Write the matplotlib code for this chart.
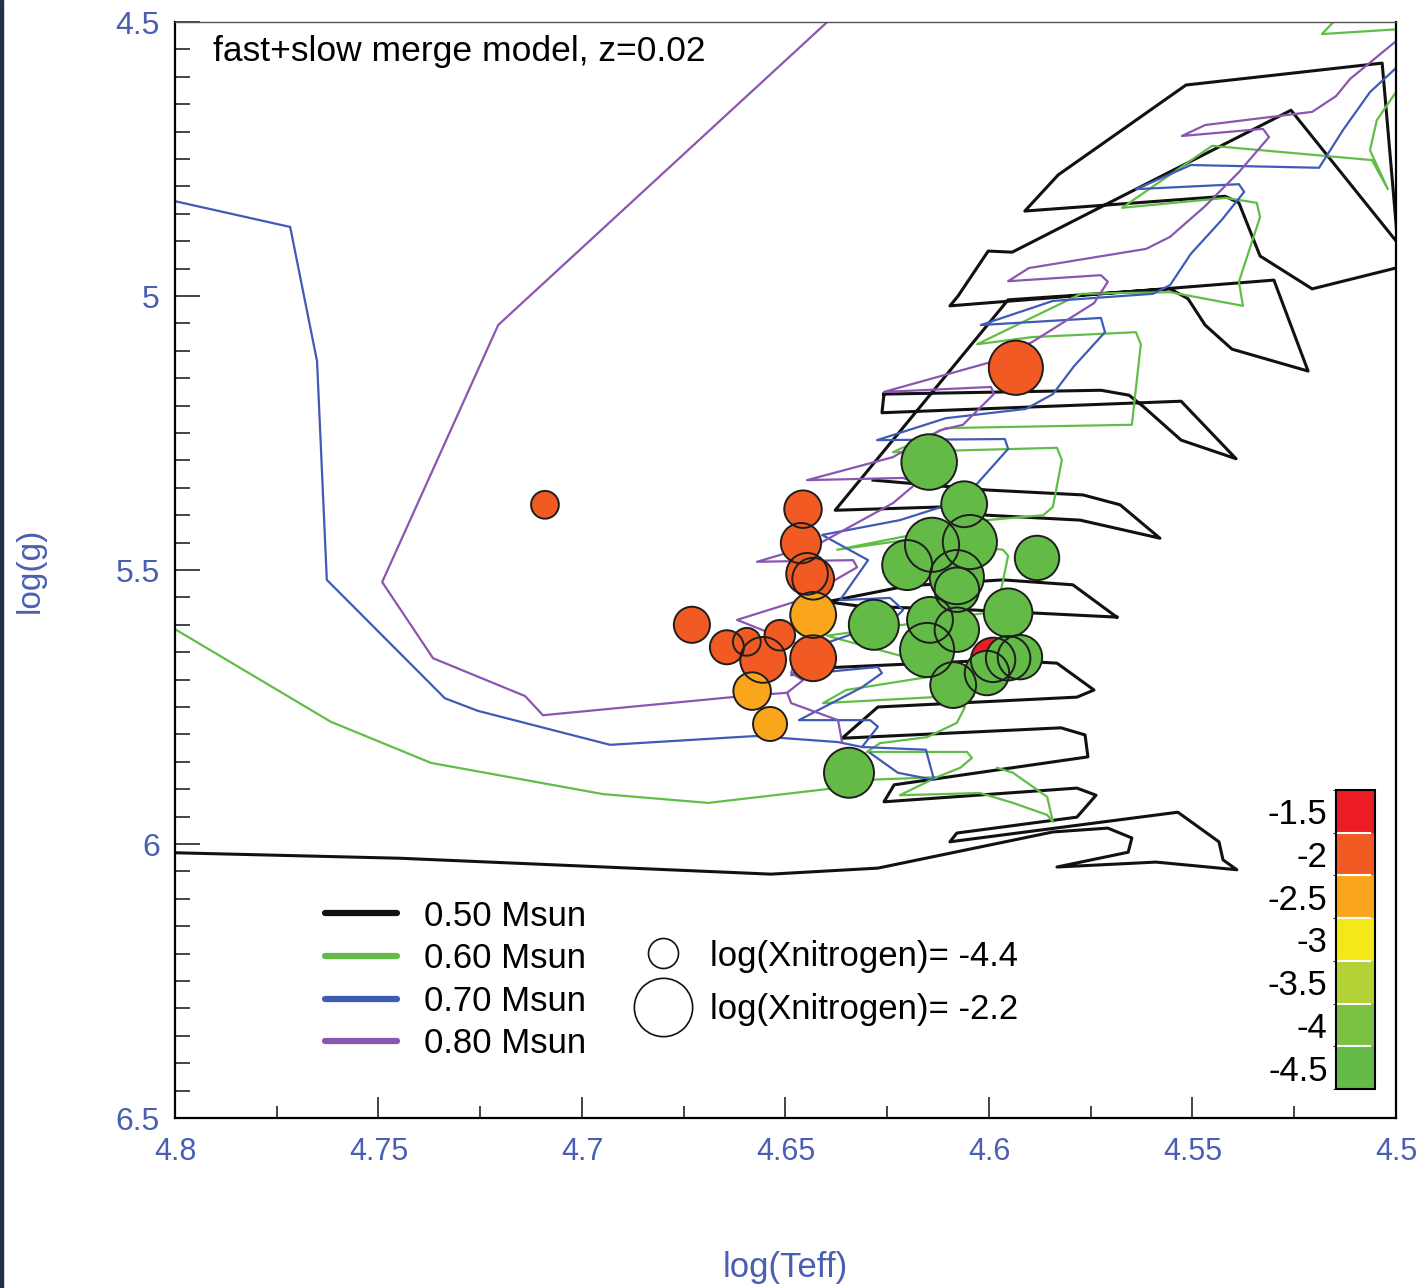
import numpy as np
import matplotlib
matplotlib.use('Agg')
import matplotlib.pyplot as plt
from matplotlib.colors import ListedColormap, BoundaryNorm
from matplotlib.cm import ScalarMappable
from matplotlib.lines import Line2D
from matplotlib.patches import Rectangle

nan = np.nan

# --- evolutionary tracks (log Teff, log g), nan = gap between pieces ---
teff_050 = [4.4941, 4.5206, 4.5334, 4.5386, 4.5420, 4.5912, 4.5830, 4.5516, 4.5034, 4.4990, nan,
            4.4941, 4.5258, 4.5943, 4.6002, 4.6076, 4.6096, 4.5300, 4.5216, 4.5403, 4.5469, 4.5511,
            4.5555, 4.5953, 4.6378, 4.6120, 4.6005, 4.5776, 4.5580, 4.5678, 4.5769, 4.6005, 4.6285, nan,
            4.6258, 4.5725, 4.5656, 4.5622, 4.5528, 4.5393, 4.5528, 4.6263, 4.6258, nan,
            4.5686, 4.5794, 4.5966, 4.6201, 4.6398, 4.6317, 4.6039, 4.5686, nan,
            4.6415, 4.5973, 4.5833, 4.5742, 4.5784, 4.6273, 4.6361, 4.5823, 4.5764, 4.5757, 4.6233,
            4.6258, 4.5784, 4.5737, 4.5784, 4.6079, 4.6096, 4.5536, 4.5435, 4.5425, 4.5391, 4.5590,
            4.5833, 4.5658, 4.5649, 4.5708, 4.5843, 4.6273, 4.6536, 4.7447, 4.8000]
logg_050 = [4.938, 4.987, 4.927, 4.830, 4.818, 4.845, 4.779, 4.615, 4.575, 4.953, nan,
            4.954, 4.661, 4.920, 4.918, 5.000, 5.018, 4.971, 5.137, 5.097, 5.053, 5.005,
            4.987, 5.007, 5.391, 5.385, 5.400, 5.409, 5.442, 5.381, 5.363, 5.354, 5.336, nan,
            5.179, 5.172, 5.181, 5.201, 5.263, 5.297, 5.192, 5.213, 5.179, nan,
            5.586, 5.527, 5.518, 5.529, 5.558, 5.566, 5.573, 5.586, nan,
            5.679, 5.664, 5.670, 5.719, 5.732, 5.750, 5.807, 5.788, 5.801, 5.841, 5.892,
            5.923, 5.898, 5.911, 5.951, 5.980, 5.996, 5.942, 5.996, 6.029, 6.047, 6.033,
            6.042, 6.015, 5.989, 5.971, 5.978, 6.044, 6.055, 6.026, 6.016]

teff_060 = [4.5125, 4.5182, 4.4990, nan,
            4.4990, 4.5047, 4.5064, 4.5020, 4.5059, 4.5452, 4.5673, 4.5418, 4.5342, 4.5334, 4.5386,
            4.5376, 4.5555, 4.5774, 4.6029, 4.5894, 4.5639, 4.5627, 4.5649, 4.6106, 4.6236, 4.5833,
            4.5821, 4.5843, 4.5867, 4.6005, 4.6373, 4.6201, 4.5966, 4.5953, 4.5973, 4.6005, 4.6398,
            4.6071, 4.6351, 4.6408, 4.6135, 4.6059, 4.6079, 4.6152, 4.6268, 4.6300, 4.6054, 4.6042,
            4.6071, 4.6128, 4.6219, 4.6022, 4.5941, 4.5857, 4.5843, 4.5857, 4.5941, 4.5980, nan,
            4.8000, 4.7617, 4.7371, 4.6948, 4.6690, 4.6400, 4.6300, 4.6128]
logg_060 = [4.478, 4.522, 4.513, nan,
            4.617, 4.679, 4.734, 4.805, 4.752, 4.726, 4.839, 4.821, 4.830, 4.856, 4.974,
            5.018, 4.993, 4.996, 5.088, 5.075, 5.066, 5.088, 5.235, 5.241, 5.285, 5.277,
            5.299, 5.385, 5.400, 5.409, 5.463, 5.445, 5.463, 5.474, 5.546, 5.578, 5.620,
            5.686, 5.719, 5.743, 5.732, 5.750, 5.779, 5.805, 5.816, 5.832, 5.832, 5.843,
            5.861, 5.878, 5.911, 5.907, 5.925, 5.947, 5.960, 5.914, 5.870, 5.861, nan,
            5.608, 5.777, 5.852, 5.909, 5.925, 5.900, 5.883, 5.878]

teff_070 = [4.4941, 4.5000, 4.5064, 4.5130, 4.5189, 4.5504, 4.5639, 4.5386, 4.5373, 4.5428, 4.5504,
            4.5555, 4.5597, 4.5843, 4.6020, 4.5725, 4.5715, 4.5791, 4.5843, 4.5909, 4.6106, 4.6275,
            4.5961, 4.5953, 4.6037, 4.6096, 4.6219, 4.6410, 4.6297, 4.6366, 4.6243, 4.6211, 4.6236,
            4.6391, 4.6486, 4.6273, 4.6263, 4.6312, 4.6467, 4.6292, 4.6273, 4.6312, 4.6155, 4.6135,
            4.6224, 4.6292, nan,
            4.8000, 4.7717, 4.7651, 4.7627, 4.7337, 4.7256, 4.6931, 4.6575, 4.6371, 4.6312]
logg_070 = [4.542, 4.584, 4.628, 4.697, 4.766, 4.761, 4.805, 4.796, 4.810, 4.861, 4.923,
            4.980, 4.996, 5.009, 5.053, 5.040, 5.066, 5.128, 5.179, 5.206, 5.223, 5.263,
            5.261, 5.279, 5.349, 5.380, 5.409, 5.436, 5.482, 5.555, 5.551, 5.573, 5.591,
            5.631, 5.692, 5.677, 5.688, 5.714, 5.774, 5.774, 5.786, 5.823, 5.828, 5.883,
            5.870, 5.834, nan,
            4.827, 4.874, 5.119, 5.518, 5.734, 5.757, 5.819, 5.803, 5.814, 5.823]

teff_080 = [4.4941, 4.5000, 4.5113, 4.5147, 4.5206, 4.5469, 4.5526, 4.5327, 4.5312, 4.5386, 4.5469,
            4.5555, 4.5614, 4.5902, 4.5953, 4.5725, 4.5708, 4.5742, 4.5894, 4.6002, 4.6258, 4.5995,
            4.5988, 4.6064, 4.6120, 4.6236, 4.6447, 4.6211, 4.6177, 4.6236, 4.6415, 4.6570, 4.6334,
            4.6324, 4.6464, 4.6619, 4.6464, 4.6486, 4.6457, 4.6496, 4.6486, 4.6371, 4.6361, nan,
            4.6339, 4.7206, 4.7491, 4.7366, 4.7140, 4.7096, 4.6631, 4.6496]
logg_080 = [4.496, 4.535, 4.604, 4.635, 4.664, 4.688, 4.708, 4.695, 4.710, 4.774, 4.836,
            4.892, 4.914, 4.949, 4.973, 4.962, 4.974, 5.013, 5.084, 5.122, 5.175, 5.166,
            5.179, 5.235, 5.245, 5.294, 5.336, 5.332, 5.341, 5.378, 5.451, 5.485, 5.482,
            5.495, 5.555, 5.591, 5.637, 5.688, 5.701, 5.724, 5.743, 5.774, 5.814, nan,
            4.460, 5.053, 5.522, 5.661, 5.730, 5.765, 5.732, 5.724]

track_labels = ['0.50 Msun', '0.60 Msun', '0.70 Msun', '0.80 Msun']

# --- observed stars ---
star_teff = [4.7091, 4.6730, 4.6644, 4.6595, 4.6514, 4.6555, 4.6432, 4.6457, 4.6462, 4.6447, 4.6432,
             4.5934, 4.6432, 4.6582, 4.6538, 4.5990,
             4.6147, 4.6061, 4.6201, 4.6140, 4.6047, 4.6079, 4.6079, 4.5882, 4.6283, 4.5953,
             4.6145, 4.6079, 4.6152, 4.6088, 4.6005, 4.5953, 4.5924, 4.6344]
star_logg = [5.381, 5.600, 5.641, 5.631, 5.619, 5.664, 5.661, 5.389, 5.451, 5.507, 5.516,
             5.131, 5.582, 5.721, 5.781, 5.664,
             5.303, 5.380, 5.491, 5.454, 5.449, 5.513, 5.536, 5.478, 5.600, 5.578,
             5.591, 5.609, 5.646, 5.710, 5.688, 5.661, 5.659, 5.870]
star_logn = [-2.0, -2.0, -2.1, -2.0, -2.0, -2.1, -2.0, -2.0, -2.1, -2.0, -2.0,
             -2.1, -2.4, -2.4, -2.5, -1.6,
             -4.5, -4.5, -4.5, -4.5, -4.5, -4.5, -4.5, -4.5, -4.5, -4.5,
             -4.5, -4.5, -4.5, -4.5, -4.5, -4.5, -4.5, -4.5]

cbar_ticks = [-4.5, -4, -3.5, -3, -2.5, -2, -1.5]
cbar_colors = ['#63ba46', '#7bc143', '#b2d235', '#f2e81a', '#f9a61c', '#f15a22', '#ec1c24']

xtick_vals = [4.8, 4.75, 4.7, 4.65, 4.6, 4.55, 4.5]

# marker diameters (pt)
msize = np.array([20, 26, 24.5, 20, 22, 33, 33, 27, 29, 30, 30,
                  39, 33, 27, 24.5, 32,
                  40, 33, 36, 39, 39, 39, 32, 32, 36, 35,
                  33, 32, 39, 33, 32, 32, 32, 36])

plt.rcParams['font.family'] = ['Liberation Sans', 'DejaVu Sans']
blue_txt = '#4a5fb3'

fig = plt.figure(figsize=(14.26, 12.88), dpi=100)
fig.patches.append(Rectangle((0, 0), 3 / 1426, 1, transform=fig.transFigure,
                             color='#22304c', zorder=0))
ax = fig.add_axes([175 / 1426, 170 / 1288, 1221 / 1426, 1096 / 1288])

track_colors = ['#111111', '#62bd48', '#3f5bb5', '#8b55b2']
tracks = [(teff_050, logg_050), (teff_060, logg_060), (teff_070, logg_070), (teff_080, logg_080)]
for (tx, ty), col in zip(tracks, track_colors):
    ax.plot(tx, ty, color=col, lw=2.2 if col == '#111111' else 1.6, zorder=2)

cmap = ListedColormap(cbar_colors)
bounds = np.arange(-4.75, -1.24, 0.5)
norm = BoundaryNorm(bounds, cmap.N)

# fills first, then all outlines on top
ax.scatter(star_teff, star_logg, s=msize ** 2, c=star_logn, cmap=cmap, norm=norm,
           edgecolors='none', zorder=3)
ax.scatter(star_teff, star_logg, s=msize ** 2, facecolors='none', edgecolors='#1e1e1e',
           linewidths=1.4, zorder=4)

ax.set_xlim(4.8, 4.5)
ax.set_ylim(6.5, 4.5)
ax.set_xticks(xtick_vals)
ax.set_xticklabels(['%g' % v for v in xtick_vals])
ax.xaxis.set_minor_locator(plt.MultipleLocator(0.025))
ax.yaxis.set_major_locator(plt.MultipleLocator(0.5))
ax.yaxis.set_minor_locator(plt.MultipleLocator(0.05))
ax.yaxis.set_major_formatter(plt.FormatStrFormatter('%g'))
ax.tick_params(which='both', direction='in', top=False, right=False, width=1.1, color='#111111')
ax.tick_params(axis='x', which='major', length=15, pad=14, labelsize=22, labelcolor=blue_txt)
ax.tick_params(axis='x', which='minor', length=9)
ax.tick_params(axis='y', which='major', length=18, pad=11, labelsize=23, labelcolor=blue_txt)
ax.tick_params(axis='y', which='minor', length=11)
for s in ['left', 'bottom', 'right']:
    ax.spines[s].set_linewidth(1.6)
ax.spines['top'].set_linewidth(1.0)
ax.spines['top'].set_color('#555555')

ax.text(0.031, 0.9644, 'fast+slow merge model, z=0.02', transform=ax.transAxes,
        fontsize=25.5, va='baseline', ha='left')

fig.text(785 / 1426, 1 - 1268 / 1288, 'log(Teff)', ha='center', va='center',
         fontsize=25, color=blue_txt)
fig.text(30 / 1426, 1 - 570 / 1288, 'log(g)', ha='center', va='center',
         rotation=90, fontsize=24, color=blue_txt)

# legends
h_tracks = [Line2D([], [], color=c, lw=4.5, solid_capstyle='round') for c in track_colors]
leg1 = ax.legend(h_tracks, track_labels, loc='upper left', bbox_to_anchor=(0.1229, 0.1993),
                 frameon=False, prop={'size': 25}, handlelength=2.07, handletextpad=0.78,
                 labelspacing=0.275, borderpad=0, borderaxespad=0)
ax.add_artist(leg1)
h_size = [Line2D([], [], ls='none', marker='o', ms=21.6, mfc='white', mec='#111111', mew=1.2),
          Line2D([], [], ls='none', marker='o', ms=42, mfc='white', mec='#111111', mew=1.2)]
ax.legend(h_size, ['log(Xnitrogen)= -4.4', 'log(Xnitrogen)= -2.2'], loc='upper left',
          bbox_to_anchor=(0.3854, 0.1628), frameon=False, prop={'size': 25}, numpoints=1,
          handlelength=1.0, handletextpad=0.85, labelspacing=0.60, borderpad=0, borderaxespad=0)

# colour bar
cax = fig.add_axes([1336 / 1426, (1288 - 1089) / 1288, 39 / 1426, 299 / 1288])
cb = fig.colorbar(ScalarMappable(norm=norm, cmap=cmap), cax=cax, ticks=cbar_ticks)
cb.set_ticklabels(['%g' % t for t in cbar_ticks])
cax.yaxis.set_ticks_position('left')
cax.tick_params(length=0, pad=6, labelsize=25)
cb.outline.set_linewidth(1.5)
for b in bounds[1:-1]:
    cax.axhline(b, xmin=0.0, xmax=0.88, color='white', lw=1.5)

fig.savefig('out.png', dpi=100)
